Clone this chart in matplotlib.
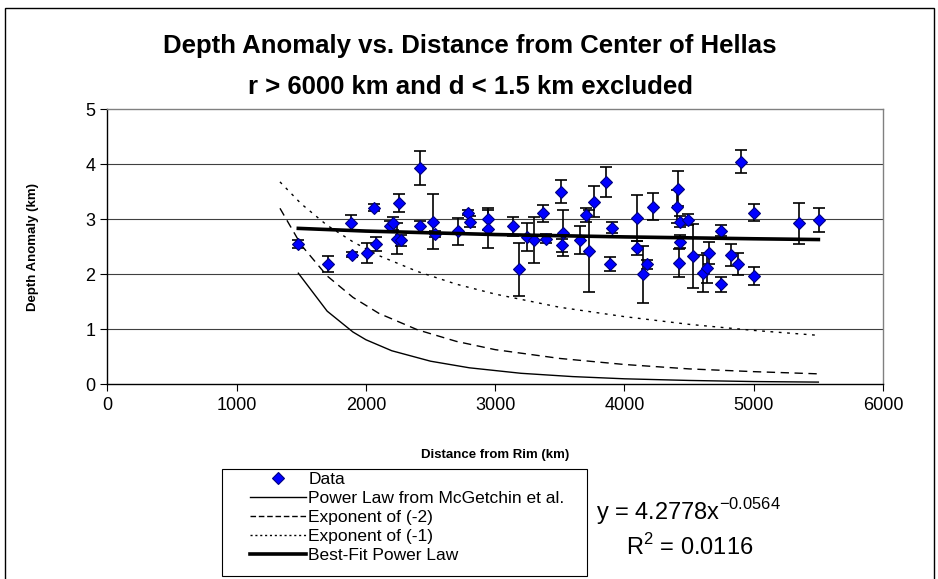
#!/usr/bin/env python3
"""
Hellas中心からの距離と深さ異常の関係をプロット
"""

import matplotlib
matplotlib.use("Agg")
import matplotlib.pyplot as plt
from matplotlib.lines import Line2D
from matplotlib.patches import Rectangle

plt.rcParams['font.family'] = ['Liberation Sans', 'DejaVu Sans']
plt.rcParams['mathtext.fontset'] = 'custom'
plt.rcParams['mathtext.rm'] = 'Liberation Sans'

# 観測データ (距離 km, 深さ異常 km, 誤差 km)
dist = [1477, 1709, 1885, 1895, 2011, 2065, 2076, 2186, 2212, 2243,
        2256, 2269, 2419, 2419, 2522, 2535, 2715, 2793, 2805, 2945,
        2945, 3136, 3187, 3249, 3300, 3368, 3393, 3510, 3515, 3523,
        3657, 3700, 3726, 3765, 3855, 3889, 3906, 4095, 4095, 4146,
        4172, 4224, 4405, 4412, 4425, 4430, 4430, 4494, 4528, 4606,
        4637, 4657, 4747, 4747, 4822, 4877, 4902, 5005, 5005, 5348,
        5503]
depth = [2.55, 2.19, 2.94, 2.36, 2.39, 3.21, 2.55, 2.87, 2.93, 2.65,
         3.30, 2.62, 3.93, 2.87, 2.96, 2.73, 2.78, 3.12, 2.96, 3.00,
         2.82, 2.87, 2.09, 2.68, 2.62, 3.11, 2.65, 3.50, 2.53, 2.75,
         2.62, 3.08, 2.42, 3.32, 3.68, 2.19, 2.85, 3.02, 2.48, 2.00,
         2.18, 3.23, 3.23, 3.56, 2.21, 2.96, 2.59, 2.99, 2.33, 2.02,
         2.11, 2.39, 2.79, 1.82, 2.36, 2.18, 4.05, 3.12, 1.97, 2.93,
         2.99]
err = [0.08, 0.15, 0.14, 0.05, 0.18, 0.06, 0.13, 0.10, 0.12, 0.28,
       0.16, 0.10, 0.31, 0.10, 0.50, 0.06, 0.25, 0.05, 0.10, 0.20,
       0.35, 0.17, 0.48, 0.25, 0.42, 0.15, 0.08, 0.21, 0.12, 0.42,
       0.25, 0.12, 0.75, 0.28, 0.28, 0.13, 0.10, 0.42, 0.12, 0.52,
       0.08, 0.24, 0.30, 0.32, 0.25, 0.10, 0.12, 0.10, 0.58, 0.34,
       0.27, 0.20, 0.10, 0.14, 0.20, 0.20, 0.21, 0.15, 0.17, 0.37,
       0.22]

# McGetchin et al. のべき乗則
mcg_x = [1477, 1700, 1900, 2000, 2200, 2500, 2800, 3200, 3600, 4000, 4500, 5000, 5500]
mcg_y = [2.02, 1.33, 0.95, 0.81, 0.61, 0.42, 0.30, 0.20, 0.14, 0.10, 0.07, 0.05, 0.04]

# 指数 -2, -1 のモデル
exp_x = [1335, 1500, 1700, 1900, 2100, 2400, 2700, 3000, 3500, 4000, 4500, 5000, 5500]
exp2_y = [3.20, 2.53, 1.97, 1.58, 1.29, 0.99, 0.78, 0.63, 0.47, 0.36, 0.28, 0.23, 0.19]
exp1_y = [3.68, 3.28, 2.89, 2.59, 2.34, 2.05, 1.82, 1.64, 1.40, 1.23, 1.09, 0.98, 0.89]

# 最適フィット y = 4.2778 x^-0.0564
fit_x = [1477, 2000, 3000, 4000, 5000, 5500]
fit_y = [2.835, 2.786, 2.723, 2.680, 2.646, 2.632]

W, H = 938, 579
fig = plt.figure(figsize=(W / 100, H / 100), dpi=100)
ax = fig.add_axes([107.4 / W, 1 - 384.3 / H, (883 - 107.4) / W, (384.3 - 109.3) / H])

# 外枠
fig.patches.append(Rectangle((5 / W, -0.02), 929 / W, 1.02 - 8 / H,
                             transform=fig.transFigure, fill=False,
                             edgecolor='black', linewidth=1.0))

ax.errorbar(dist, depth, yerr=err, fmt='none', ecolor='black',
            elinewidth=1.2, capsize=4.5, capthick=1.2, zorder=3)
ax.plot(dist, depth, linestyle='none', marker='D', markersize=6,
        markerfacecolor='#0000FF', markeredgecolor='#000080',
        markeredgewidth=0.8, zorder=4)

ax.plot(mcg_x, mcg_y, color='black', linewidth=1.0, zorder=2)
ax.plot(exp_x, exp2_y, color='black', linewidth=1.0, linestyle=(0, (6, 4)), zorder=2)
ax.plot(exp_x, exp1_y, color='black', linewidth=1.0, linestyle=(0, (2, 4)), zorder=2)
ax.plot(fit_x, fit_y, color='black', linewidth=2.6, zorder=5)

ax.set_xlim(0, 6000)
ax.set_ylim(0, 5)
ax.set_xticks(range(0, 6001, 1000))
ax.set_yticks(range(0, 6))
ax.tick_params(axis='both', direction='out', length=5, width=0.8,
               labelsize=13, colors='black')
ax.tick_params(axis='x', pad=4)

for y in range(1, 5):
    ax.axhline(y, color='#404040', linewidth=0.8, zorder=1)

ax.spines['top'].set_color('#808080')
ax.spines['right'].set_color('#808080')
for s in ax.spines.values():
    s.set_linewidth(1.0)

ax.set_xlabel('Distance from Rim (km)', fontsize=9.5, fontweight='bold')
ax.set_ylabel('Depth Anomaly (km)', fontsize=9.5, fontweight='bold')
ax.xaxis.set_label_coords(0.5, -(455 - 384.3) / 275)
ax.yaxis.set_label_coords((33 - 107.4) / 775.6, 0.5)
ax.xaxis.label.set_va('center')
ax.yaxis.label.set_va('center')

# タイトル (2行)
fig.text(470 / W, 1 - 53 / H, 'Depth Anomaly vs. Distance from Center of Hellas',
         ha='center', va='baseline', fontsize=18.5, fontweight='bold')
fig.text(470 / W, 1 - 94 / H, 'r > 6000 km and d < 1.5 km excluded',
         ha='center', va='baseline', fontsize=18.5, fontweight='bold')

# 凡例 (枠は別に描く)
fig.patches.append(Rectangle((222 / W, 1 - 576 / H), 365 / W, 107 / H,
                             transform=fig.transFigure, fill=False,
                             edgecolor='black', linewidth=0.8))
handles = [
    Line2D([], [], linestyle='none', marker='D', markersize=6,
           markerfacecolor='#0000FF', markeredgecolor='#000080', markeredgewidth=0.8),
    Line2D([], [], color='black', linewidth=1.0),
    Line2D([], [], color='black', linewidth=1.0, linestyle=(0, (4, 2))),
    Line2D([], [], color='black', linewidth=1.0, linestyle=(0, (1.5, 2))),
    Line2D([], [], color='black', linewidth=2.6),
]
labels = ['Data', 'Power Law from McGetchin et al.', 'Exponent of (-2)',
          'Exponent of (-1)', 'Best-Fit Power Law']
leg = fig.legend(handles, labels, loc='upper left',
                 bbox_to_anchor=(250 / W, 1 - 472 / H),
                 fontsize=12.5, frameon=False, borderpad=0, labelspacing=0.22,
                 handlelength=3.2, handletextpad=0.15, borderaxespad=0)

# 回帰式
fig.text(596 / W, 1 - 512 / H, r'y = 4.2778x$^{\mathrm{-0.0564}}$',
         ha='left', va='center', fontsize=17)
fig.text(690 / W, 1 - 547 / H, r'R$^{\mathrm{2}}$ = 0.0116',
         ha='center', va='center', fontsize=17)

plt.savefig('out.png', dpi=100)
